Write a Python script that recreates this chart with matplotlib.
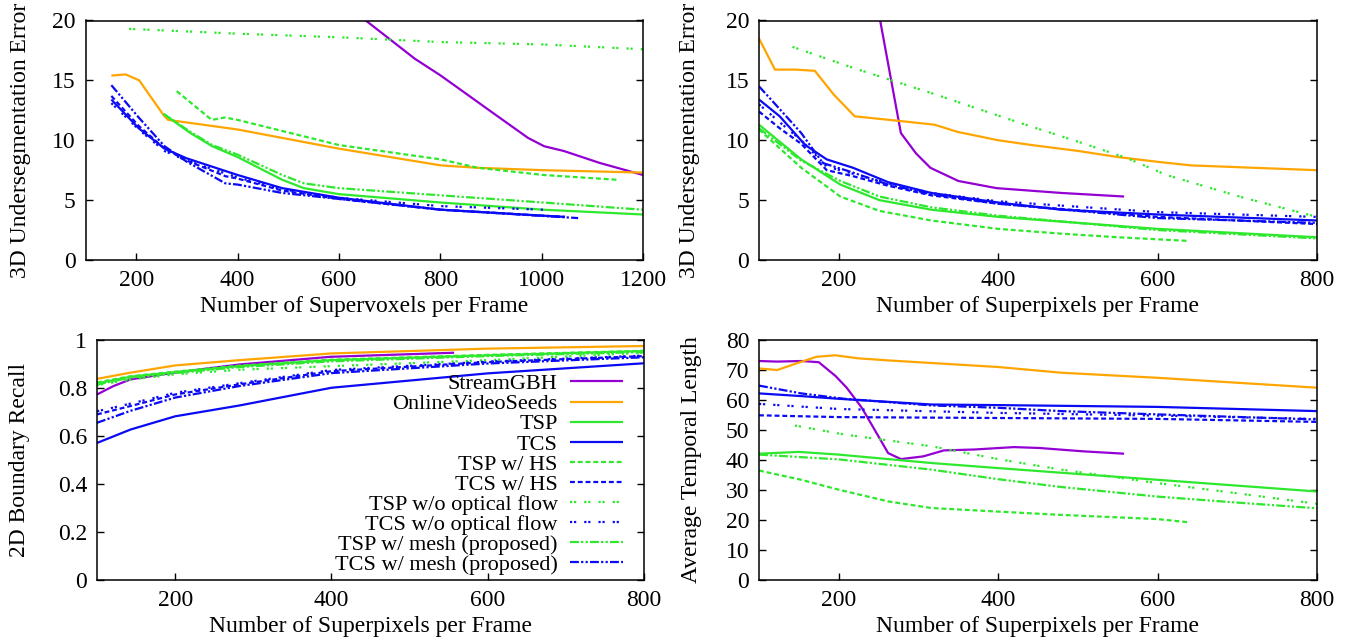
import matplotlib
matplotlib.use("Agg")
import matplotlib.pyplot as plt

plt.rcParams['font.family'] = ['Liberation Serif', 'DejaVu Serif']
plt.rcParams['mathtext.fontset'] = 'stix'

# ---------------- Panel 1: 3D UE vs supervoxels ----------------
p1_sgbh_x = [600, 653, 750, 801, 900, 973, 1005, 1044, 1115, 1200]
p1_sgbh_y = [21.7, 20.0, 16.8, 15.4, 12.4, 10.2, 9.5, 9.1, 8.1, 7.1]
p1_ovs_x = [151, 179, 206, 254, 263, 400, 600, 801, 874, 1003, 1200]
p1_ovs_y = [15.4, 15.5, 15.0, 12.1, 11.7, 10.9, 9.3, 7.9, 7.7, 7.5, 7.3]
p1_tsp_x = [254, 307, 350, 400, 488, 531, 600, 801, 1003, 1200]
p1_tsp_y = [12.2, 10.6, 9.5, 8.6, 6.7, 6.0, 5.5, 4.8, 4.2, 3.8]
p1_tcs_x = [151, 205, 256, 299, 400, 488, 600, 801, 1003, 1046]
p1_tcs_y = [13.4, 11.0, 9.3, 8.5, 7.1, 6.0, 5.2, 4.2, 3.7, 3.6]
p1_tsphs_x = [280, 349, 375, 400, 600, 801, 874, 1003, 1149]
p1_tsphs_y = [14.1, 11.7, 11.9, 11.7, 9.6, 8.4, 7.7, 7.1, 6.7]
p1_tcshs_x = [151, 205, 256, 300, 376, 400, 488, 600, 801, 1003, 1046]
p1_tcshs_y = [13.7, 11.2, 9.3, 8.3, 7.0, 6.8, 5.8, 5.1, 4.2, 3.7, 3.6]
p1_tspnof_x = [186, 400, 600, 801, 1003, 1200]
p1_tspnof_y = [19.3, 18.9, 18.6, 18.2, 18.0, 17.6]
p1_tcsnof_x = [151, 205, 256, 300, 400, 488, 600, 801, 1003]
p1_tcsnof_y = [13.1, 10.9, 9.1, 8.3, 6.9, 5.9, 5.2, 4.5, 4.2]
p1_tspmesh_x = [254, 307, 350, 400, 488, 531, 600, 801, 1003, 1200]
p1_tspmesh_y = [12.2, 10.7, 9.6, 8.8, 7.1, 6.4, 6.0, 5.4, 4.8, 4.2]
p1_tcsmesh_x = [151, 205, 256, 300, 376, 400, 488, 600, 801, 1072]
p1_tcsmesh_y = [14.6, 11.9, 9.5, 8.2, 6.4, 6.3, 5.6, 5.1, 4.2, 3.5]

# ---------------- Panel 2: 3D UE vs superpixels ----------------
p2_sgbh_x = [245, 252, 278, 297, 315, 350, 398, 479, 558]
p2_sgbh_y = [22.5, 20.0, 10.6, 8.9, 7.7, 6.6, 6.0, 5.6, 5.3]
p2_ovs_x = [100, 120, 145, 170, 194, 220, 278, 320, 349, 400, 442, 501, 550, 600, 642, 800]
p2_ovs_y = [18.5, 15.9, 15.9, 15.8, 13.8, 12.0, 11.6, 11.3, 10.7, 10.0, 9.6, 9.1, 8.6, 8.2, 7.9, 7.5]
p2_tsp_x = [100, 153, 202, 251, 316, 400, 600, 800]
p2_tsp_y = [11.3, 8.4, 6.3, 5.0, 4.2, 3.6, 2.6, 1.9]
p2_tcs_x = [100, 126, 158, 185, 218, 262, 316, 400, 479, 600, 800]
p2_tcs_y = [13.4, 12.0, 9.6, 8.4, 7.7, 6.5, 5.6, 4.8, 4.2, 3.8, 3.3]
p2_tsphs_x = [100, 153, 202, 251, 316, 400, 479, 550, 637]
p2_tsphs_y = [10.9, 7.7, 5.3, 4.1, 3.3, 2.6, 2.2, 1.9, 1.6]
p2_tcshs_x = [100, 126, 153, 185, 218, 262, 316, 400, 600, 800]
p2_tcshs_y = [12.4, 11.0, 9.7, 7.5, 7.0, 6.2, 5.4, 4.7, 3.6, 3.0]
p2_tspnof_x = [142, 220, 318, 416, 513, 562, 611, 708, 800]
p2_tspnof_y = [17.8, 16.0, 13.9, 11.7, 9.6, 8.5, 7.1, 5.2, 3.6]
p2_tcsnof_x = [100, 126, 153, 185, 218, 262, 316, 400, 600, 800]
p2_tcsnof_y = [13.0, 11.5, 10.0, 7.8, 7.2, 6.4, 5.6, 4.9, 4.0, 3.6]
p2_tspmesh_x = [100, 153, 202, 251, 316, 400, 600, 800]
p2_tspmesh_y = [11.0, 8.3, 6.6, 5.3, 4.4, 3.7, 2.5, 1.8]
p2_tcsmesh_x = [100, 126, 153, 180, 218, 262, 316, 400, 600, 800]
p2_tcsmesh_y = [14.5, 12.6, 10.6, 8.1, 7.3, 6.3, 5.5, 4.7, 3.5, 3.1]

# ---------------- Panel 3: 2D boundary recall ----------------
p3_sgbh_x = [100, 121, 143, 199, 282, 399, 557]
p3_sgbh_y = [0.773, 0.808, 0.836, 0.864, 0.898, 0.930, 0.947]
p3_x = [100, 143, 200, 282, 400, 600, 800]
p3_ovs_y = [0.838, 0.864, 0.894, 0.916, 0.944, 0.964, 0.975]
p3_tsp_y = [0.819, 0.847, 0.866, 0.891, 0.916, 0.936, 0.954]
p3_tcs_y = [0.571, 0.627, 0.682, 0.727, 0.801, 0.861, 0.903]
p3_tsphs_y = [0.823, 0.849, 0.868, 0.893, 0.918, 0.938, 0.955]
p3_tcshs_y = [0.690, 0.725, 0.773, 0.815, 0.870, 0.908, 0.933]
p3_tspnof_y = [0.812, 0.835, 0.857, 0.876, 0.891, 0.916, 0.947]
p3_tcsnof_y = [0.703, 0.735, 0.780, 0.820, 0.875, 0.910, 0.935]
p3_tspmesh_y = [0.815, 0.843, 0.862, 0.887, 0.911, 0.933, 0.950]
p3_tcsmesh_y = [0.655, 0.705, 0.760, 0.808, 0.862, 0.902, 0.928]

# ---------------- Panel 4: average temporal length ----------------
p4_sgbh_x = [100, 123, 153, 175, 196, 210, 229, 245, 262, 278, 306, 332, 370, 420, 452, 506, 558]
p4_sgbh_y = [73.0, 72.8, 73.0, 72.6, 68.0, 64.1, 57.4, 50.1, 42.3, 40.3, 41.2, 43.2, 43.5, 44.3, 44.0, 42.9, 42.1]
p4_ovs_x = [100, 123, 147, 172, 196, 224, 262, 400, 479, 600, 800]
p4_ovs_y = [70.5, 70.0, 72.2, 74.4, 74.9, 73.9, 73.2, 71.0, 69.1, 67.4, 64.1]
p4_tsp_x = [100, 150, 200, 316, 400, 600, 800]
p4_tsp_y = [42.1, 42.7, 41.8, 39.0, 37.3, 33.4, 29.5]
p4_tcs_x = [100, 153, 200, 316, 400, 600, 800]
p4_tcs_y = [62.2, 61.3, 60.4, 58.5, 58.3, 57.7, 56.3]
p4_tsphs_x = [100, 153, 200, 262, 316, 400, 479, 600, 637]
p4_tsphs_y = [36.5, 33.4, 30.1, 26.2, 24.0, 22.8, 21.7, 20.3, 19.3]
p4_tcshs_x = [100, 200, 400, 600, 800]
p4_tcshs_y = [54.9, 54.3, 54.0, 53.7, 52.7]
p4_tspnof_x = [145, 207, 316, 400, 479, 600, 697, 800]
p4_tspnof_y = [51.5, 48.5, 44.6, 40.3, 36.8, 32.3, 29.0, 25.4]
p4_tcsnof_x = [100, 200, 400, 600, 800]
p4_tcsnof_y = [58.7, 57.0, 55.7, 54.8, 53.7]
p4_tspmesh_x = [100, 200, 316, 400, 479, 600, 700, 800]
p4_tspmesh_y = [41.8, 40.2, 36.8, 33.6, 31.0, 27.8, 25.8, 23.9]
p4_tcsmesh_x = [100, 153, 207, 316, 400, 479, 600, 800]
p4_tcsmesh_y = [64.8, 62.2, 60.4, 58.2, 57.4, 56.3, 55.2, 53.5]

labels = ["StreamGBH", "OnlineVideoSeeds", "TSP", "TCS", "TSP w/ HS", "TCS w/ HS",
          "TSP w/o optical flow", "TCS w/o optical flow",
          "TSP w/ mesh (proposed)", "TCS w/ mesh (proposed)"]

PURPLE = '#9400d3'
ORANGE = '#ffa500'
GREEN = '#2ee82e'
BLUE = '#0a0af5'
SOLID = '-'
DASH = (0, (2.2, 1.3))
DOT = (0, (1.0, 0.8, 1.0, 3.6))
DASHDOT = (0, (4.0, 1.0, 1.0, 1.0, 1.0, 1.0))
styles = [(PURPLE, SOLID), (ORANGE, SOLID), (GREEN, SOLID), (BLUE, SOLID),
          (GREEN, DASH), (BLUE, DASH), (GREEN, DOT), (BLUE, DOT),
          (GREEN, DASHDOT), (BLUE, DASHDOT)]

FS = 17
LEG_FS = 16
W, H = 1349, 638
fig = plt.figure(figsize=(W / 100, H / 100), dpi=100)


def make_ax(l, r, t, b):
    return fig.add_axes([l / W, 1 - b / H, (r - l) / W, (b - t) / H])


ax1 = make_ax(85.5, 643, 20.5, 260)
ax2 = make_ax(759, 1317, 20.5, 260)
ax3 = make_ax(97, 644, 340, 580)
ax4 = make_ax(759, 1317, 340, 580)

series1 = [(p1_sgbh_x, p1_sgbh_y), (p1_ovs_x, p1_ovs_y), (p1_tsp_x, p1_tsp_y), (p1_tcs_x, p1_tcs_y),
           (p1_tsphs_x, p1_tsphs_y), (p1_tcshs_x, p1_tcshs_y), (p1_tspnof_x, p1_tspnof_y),
           (p1_tcsnof_x, p1_tcsnof_y), (p1_tspmesh_x, p1_tspmesh_y), (p1_tcsmesh_x, p1_tcsmesh_y)]
series2 = [(p2_sgbh_x, p2_sgbh_y), (p2_ovs_x, p2_ovs_y), (p2_tsp_x, p2_tsp_y), (p2_tcs_x, p2_tcs_y),
           (p2_tsphs_x, p2_tsphs_y), (p2_tcshs_x, p2_tcshs_y), (p2_tspnof_x, p2_tspnof_y),
           (p2_tcsnof_x, p2_tcsnof_y), (p2_tspmesh_x, p2_tspmesh_y), (p2_tcsmesh_x, p2_tcsmesh_y)]
series3 = [(p3_sgbh_x, p3_sgbh_y), (p3_x, p3_ovs_y), (p3_x, p3_tsp_y), (p3_x, p3_tcs_y),
           (p3_x, p3_tsphs_y), (p3_x, p3_tcshs_y), (p3_x, p3_tspnof_y),
           (p3_x, p3_tcsnof_y), (p3_x, p3_tspmesh_y), (p3_x, p3_tcsmesh_y)]
series4 = [(p4_sgbh_x, p4_sgbh_y), (p4_ovs_x, p4_ovs_y), (p4_tsp_x, p4_tsp_y), (p4_tcs_x, p4_tcs_y),
           (p4_tsphs_x, p4_tsphs_y), (p4_tcshs_x, p4_tcshs_y), (p4_tspnof_x, p4_tspnof_y),
           (p4_tcsnof_x, p4_tcsnof_y), (p4_tspmesh_x, p4_tspmesh_y), (p4_tcsmesh_x, p4_tcsmesh_y)]


def draw(ax, series, xlim, ylim, xticks, yticks, ytl, xlabel, ylabel, ylab_x):
    for (x, y), lab, (c, ls) in zip(series, labels, styles):
        ax.plot(x, y, color=c, linestyle=ls, linewidth=1.6, label=lab,
                solid_capstyle='butt', dash_capstyle='butt')
    ax.set_xlim(*xlim)
    ax.set_ylim(*ylim)
    ax.set_xticks(xticks)
    ax.set_yticks(yticks)
    ax.set_yticklabels(ytl)
    ax.tick_params(direction='in', top=False, right=True, length=5, width=1,
                   labelsize=FS, pad=7, colors='black')
    for s in ax.spines.values():
        s.set_linewidth(1.1)
    ax.set_xlabel(xlabel, fontsize=FS, labelpad=4)
    ax.set_ylabel(ylabel, fontsize=FS)
    ax.yaxis.set_label_coords(ylab_x, 0.5)


draw(ax1, series1, (100, 1200), (0, 20), [200, 400, 600, 800, 1000, 1200],
     [0, 5, 10, 15, 20], ['0', '5', '10', '15', '20'],
     'Number of Supervoxels per Frame', '3D Undersegmentation Error', -0.097)
draw(ax2, series2, (100, 800), (0, 20), [200, 400, 600, 800],
     [0, 5, 10, 15, 20], ['0', '5', '10', '15', '20'],
     'Number of Superpixels per Frame', '3D Undersegmentation Error', -0.105)
draw(ax3, series3, (100, 800), (0, 1), [200, 400, 600, 800],
     [0, 0.2, 0.4, 0.6, 0.8, 1.0], ['0', '0.2', '0.4', '0.6', '0.8', '1'],
     'Number of Superpixels per Frame', '2D Boundary Recall', -0.122)
draw(ax4, series4, (100, 800), (0, 80), [200, 400, 600, 800],
     list(range(0, 81, 10)), [str(v) for v in range(0, 81, 10)],
     'Number of Superpixels per Frame', 'Average Temporal Length', -0.102)

leg = ax3.legend(loc='lower right', bbox_to_anchor=(0.962, 0.02), frameon=False,
                 markerfirst=False, fontsize=LEG_FS, labelspacing=-0.02,
                 handlelength=2.4, handletextpad=0.55, borderpad=0.0,
                 borderaxespad=0.0)
for t in leg.get_texts():
    t.set_ha('right')

fig.savefig('out.png', dpi=100)
